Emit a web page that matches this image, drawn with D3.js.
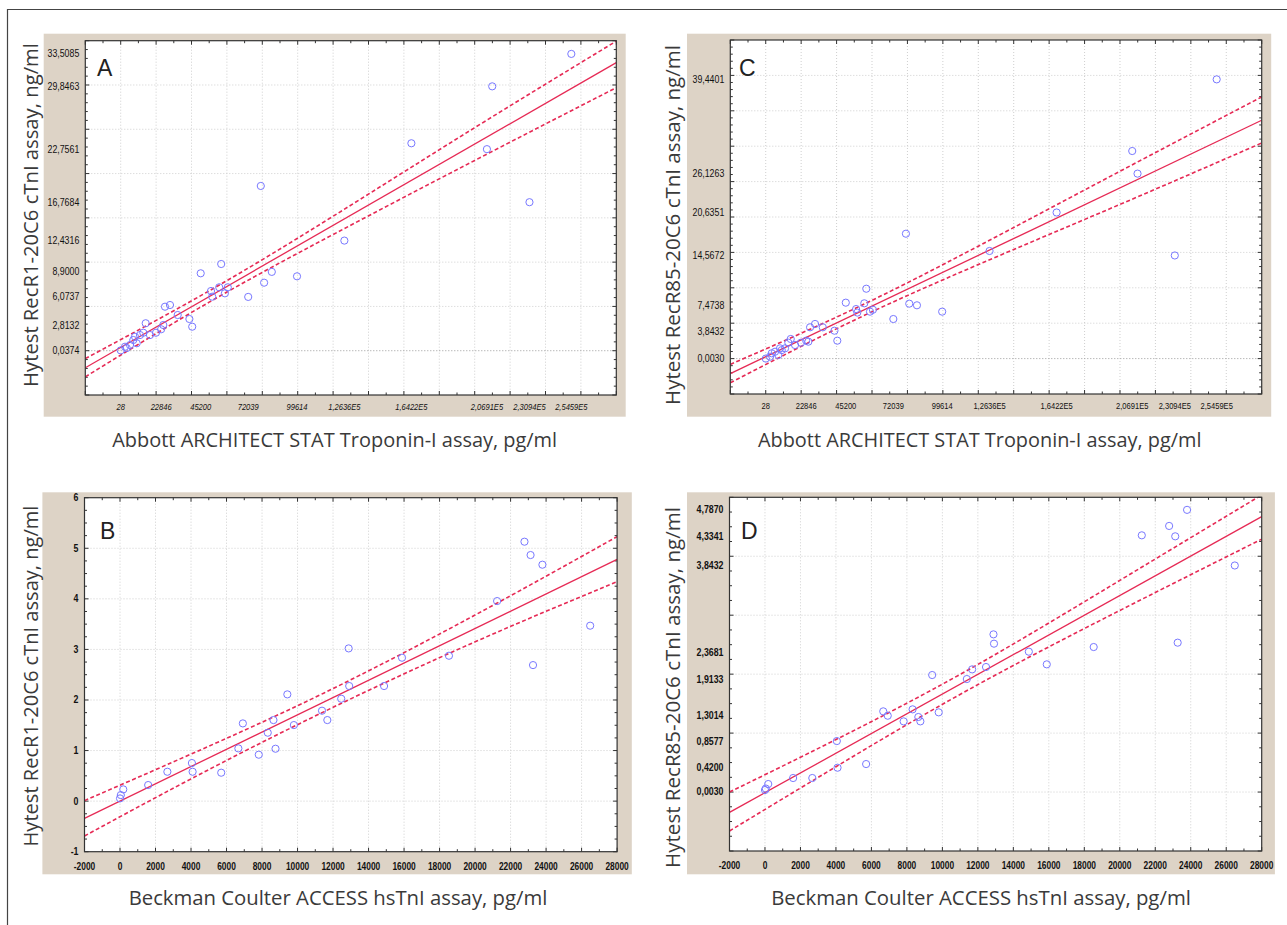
<!DOCTYPE html>
<html>
<head>
<meta charset="utf-8">
<script src="https://cdnjs.cloudflare.com/ajax/libs/d3/7.8.5/d3.min.js"></script>
<style>
    body { margin: 0; background: #fff; }
    .tick-label { font-family: "Liberation Sans", Arial, sans-serif; font-size: 10px; fill: #111; }
    .axis-title { font-family: "Open Sans", "Noto Sans", sans-serif; fill: #3a3a3a; }
    .panel-letter { font-family: "Liberation Sans", Arial, sans-serif; font-size: 23px; fill: #222; }
</style>
</head>
<body>
<div class="chart"></div>
<script>
var svgWidth = 1287;
var svgHeight = 925;

// Abbott ARCHITECT values (pg/ml), shared by panels A and C
var abbottX = [28, 2430, 3380, 5250, 7120, 8080, 9040, 10900, 12770, 14120, 16550, 19940,
    22846, 24070, 25030, 27850, 32200, 38810, 40400, 45200, 51020, 51700, 55650, 56780,
    58870, 60500, 72039, 79150, 81020, 85370, 99614, 126360, 164220, 206910, 209900,
    230940, 254590];
// Panel A: RecR1-20C6 (ng/ml)
var recR1Abbott = [0.0374, 0.45, 0.30, 0.64, 1.21, 1.58, 0.84, 1.77, 2.03, 3.10, 1.77, 2.03,
    2.42, 2.90, 4.97, 5.16, 4.03, 3.58, 2.71, 8.74, 6.74, 6.10, 7.16, 9.79,
    6.48, 7.16, 6.0737, 18.6, 7.68, 8.90, 8.40, 12.4316, 23.42, 22.7561, 29.8463,
    16.7684, 33.5085];
// Panel C: RecR85-20C6 (ng/ml)
var recR85Abbott = [0.0030, 0.27, 0.75, 0.97, 0.51, 1.45, 1.20, 1.45, 2.25, 2.77, 1.92, 2.25,
    2.53, 2.39, 4.42, 4.89, 4.42, 3.94, 2.53, 7.90, 7.00, 6.50, 7.81, 9.87,
    6.63, 6.90, 5.59, 17.64, 7.76, 7.53, 6.63, 15.2, 20.6351, 29.32, 26.1263,
    14.5672, 39.4401];

// Beckman Coulter ACCESS values (pg/ml), shared by panels B and D
var beckmanX = [0, 46, 184, 1586, 2667, 4050, 4090, 5701, 6667, 6920, 7816, 8322, 8644, 8759,
    9425, 9793, 11379, 11678, 12460, 12880, 12910, 14874, 15885, 18529, 21241, 22782,
    23126, 23264, 23793, 26483];
// Panel B: RecR1-20C6 (ng/ml)
var recR1Beckman = [0.054, 0.12, 0.232, 0.318, 0.581, 0.753, 0.581, 0.562, 1.043, 1.537, 0.918,
    1.353, 1.603, 1.036, 2.111, 1.504, 1.788, 1.603, 2.025, 3.02, 2.276, 2.276, 2.836,
    2.875, 3.956, 5.13, 4.866, 2.69, 4.675, 3.469];
// Panel D: RecR85-20C6 (ng/ml)
var recR85Beckman = [0.034, 0.06, 0.136, 0.238, 0.238, 0.865, 0.413, 0.475, 1.369, 1.295, 1.199,
    1.403, 1.273, 1.199, 1.985, 1.352, 1.917, 2.081, 2.121, 2.675, 2.517, 2.381, 2.166,
    2.46, 4.355, 4.514, 4.338, 2.534, 4.787, 3.8432];

// Regression lines and confidence bands
var fitXAbbott = [-20000, 280000];
var fitA = [-1.92, 32.52];
var fitC = [-2.12, 33.66];
var bandXAbbott = [-20000, 50000, 120000, 200000, 280000];
var upperA = [-0.89, 6.76, 15.18, 25.18, 34.95];
var lowerA = [-2.95, 5.48, 13.12, 21.48, 29.7];
var upperC = [-0.82, 7.03, 15.88, 26.46, 36.96];
var lowerC = [-3.42, 5.43, 13.28, 21.78, 30.45];

var fitXBeckman = [-2000, 28000];
var fitB = [-0.34, 4.78];
var fitD = [-0.345, 4.672];
var bandXBeckman = [-2000, 4000, 11500, 20000, 28000];
var upperB = [0.01, 0.93, 2.14, 3.68, 5.23];
var lowerB = [-0.69, 0.44, 1.77, 3.15, 4.34];
var upperD = [0.0, 0.89, 2.08, 3.59, 5.04];
var lowerD = [-0.66, 0.43, 1.74, 3.08, 4.29];

// Tick labels
var abbottTicks = [28, 22846, 45200, 72039, 99614, 126360, 164220, 206910, 230940, 254590];
var beckmanTicks = [-2000, 0, 2000, 4000, 6000, 8000, 10000, 12000, 14000, 16000, 18000, 20000,
    22000, 24000, 26000, 28000];
var yTicksA = [33.5085, 29.8463, 22.7561, 16.7684, 12.4316, 8.9, 6.0737, 2.8132, 0.0374];
var yTicksC = [39.4401, 26.1263, 20.6351, 14.5672, 7.4738, 3.8432, 0.003];
var yTicksB = [-1, 0, 1, 2, 3, 4, 5, 6];
var yTicksD = [4.787, 4.3341, 3.8432, 2.3681, 1.9133, 1.3014, 0.8577, 0.42, 0.003];

var titleAbbott = "Abbott ARCHITECT STAT Troponin-I assay, pg/ml";
var titleBeckman = "Beckman Coulter ACCESS hsTnI assay, pg/ml";
var titleRecR1 = "Hytest RecR1-20C6 cTnI assay, ng/ml";
var titleRecR85 = "Hytest RecR85-20C6 cTnI assay, ng/ml";

var red = "#e62a55";

function commaFixed(v) {
    return d3.format(".4f")(v).replace(".", ",");
}
function abbottFormat(v) {
    if (v >= 100000) return commaFixed(v / 100000) + "E5";
    return String(v);
}

var panels = [
    { letter: "A", letterPos: [97, 76], bg: [43.7, 33.7, 625.7, 416.7], plot: [85.3, 40.7, 616.3, 395],
      xDomain: [-20000, 280000], yDomain: [-5, 35], xs: abbottX, ys: recR1Abbott,
      xTicks: abbottTicks, xFormat: abbottFormat, xItalic: true, yTicks: yTicksA, yFormat: commaFixed,
      xGrid: 20000, xMinor: 10000, yGrid: 5, yMinor: 1, zeroDark: true, boldLabels: false,
      fitX: fitXAbbott, fit: fitA, bandX: bandXAbbott, upper: upperA, lower: lowerA,
      xTitle: titleAbbott, xTitlePos: [334.7, 446.5, 445], yTitle: titleRecR1, yTitlePos: [37.5, 215, 344],
      xLabelGap: 15, xLabelSize: 9 },
    { letter: "C", letterPos: [739, 76], bg: [687, 33.7, 1271.2, 416.7], plot: [730.3, 40, 1261.7, 394],
      xDomain: [-20000, 280000], yDomain: [-5, 45], xs: abbottX, ys: recR85Abbott,
      xTicks: abbottTicks, xFormat: abbottFormat, xItalic: false, yTicks: yTicksC, yFormat: commaFixed,
      xGrid: 20000, xMinor: 10000, yGrid: 5, yMinor: 1, zeroDark: true, boldLabels: false,
      fitX: fitXAbbott, fit: fitC, bandX: bandXAbbott, upper: upperC, lower: lowerC,
      xTitle: titleAbbott, xTitlePos: [979.7, 446.5, 444], yTitle: titleRecR85, yTitlePos: [680, 225, 360],
      xLabelGap: 15, xLabelSize: 9 },
    { letter: "B", letterPos: [100, 539], bg: [42.4, 492.3, 631.8, 874.3], plot: [84.5, 497.7, 617.1, 851.7],
      xDomain: [-2000, 28000], yDomain: [-1, 6], xs: beckmanX, ys: recR1Beckman,
      xTicks: beckmanTicks, xFormat: String, xItalic: false, yTicks: yTicksB, yFormat: String,
      xGrid: 2000, xMinor: 1000, yGrid: 1, yMinor: 0.25, zeroDark: false, boldLabels: true,
      fitX: fitXBeckman, fit: fitB, bandX: bandXBeckman, upper: upperB, lower: lowerB,
      xTitle: titleBeckman, xTitlePos: [338, 905, 419], yTitle: titleRecR1, yTitlePos: [37.5, 676, 341],
      xLabelGap: 18, xLabelSize: 10 },
    { letter: "D", letterPos: [741, 539], bg: [687, 492.3, 1274.9, 874.3], plot: [729.5, 497.3, 1261.7, 851],
      xDomain: [-2000, 28000], yDomain: [-1, 5], xs: beckmanX, ys: recR85Beckman,
      xTicks: beckmanTicks, xFormat: String, xItalic: false, yTicks: yTicksD, yFormat: commaFixed,
      xGrid: 2000, xMinor: 1000, yGrid: 1, yMinor: 0.25, zeroDark: false, boldLabels: true,
      fitX: fitXBeckman, fit: fitD, bandX: bandXBeckman, upper: upperD, lower: lowerD,
      xTitle: titleBeckman, xTitlePos: [981, 905, 420], yTitle: titleRecR85, yTitlePos: [680, 687.5, 361],
      xLabelGap: 18, xLabelSize: 10 }
];

var svg = d3.select(".chart")
    .append("svg")
    .attr("width", svgWidth)
    .attr("height", svgHeight);

// outer frame of the figure
svg.append("path")
    .attr("d", "M7.5,925 V9.5 H1287")
    .attr("fill", "none")
    .attr("stroke", "#444")
    .attr("stroke-width", 1.2);

// text sized to a target width
function fitText(sel, target, startSize) {
    sel.style("font-size", startSize + "px");
    var w = sel.node().getComputedTextLength();
    sel.style("font-size", (startSize * target / w) + "px");
}

panels.forEach(function (p, i) {
    var g = svg.append("g");
    var x0 = p.plot[0], y0 = p.plot[1], x1 = p.plot[2], y1 = p.plot[3];

    var xScale = d3.scaleLinear().domain(p.xDomain).range([x0, x1]);
    var yScale = d3.scaleLinear().domain(p.yDomain).range([y1, y0]);

    // beige panel
    g.append("rect")
        .attr("x", p.bg[0]).attr("y", p.bg[1])
        .attr("width", p.bg[2] - p.bg[0]).attr("height", p.bg[3] - p.bg[1])
        .attr("fill", "#ddd3c6");

    g.append("rect")
        .attr("x", x0).attr("y", y0)
        .attr("width", x1 - x0).attr("height", y1 - y0)
        .attr("fill", "#fff");

    // grid
    var xGrid = d3.range(p.xDomain[0] + p.xGrid, p.xDomain[1], p.xGrid);
    var yGrid = d3.range(p.yDomain[0] + p.yGrid, p.yDomain[1], p.yGrid);

    g.selectAll(".vgrid")
        .data(xGrid)
        .enter()
        .append("line")
        .attr("x1", d => xScale(d)).attr("x2", d => xScale(d))
        .attr("y1", y0).attr("y2", y1)
        .attr("stroke", "#cfcfcf")
        .attr("stroke-dasharray", "1,2");

    g.selectAll(".hgrid")
        .data(yGrid)
        .enter()
        .append("line")
        .attr("x1", x0).attr("x2", x1)
        .attr("y1", d => yScale(d)).attr("y2", d => yScale(d))
        .attr("stroke", d => (p.zeroDark && d === 0) ? "#9a9a9a" : "#cfcfcf")
        .attr("stroke-dasharray", "1,2");

    // inward tick marks on all four sides
    var xMinor = d3.range(p.xDomain[0], p.xDomain[1] + 1e-9, p.xMinor);
    var yMinor = d3.range(p.yDomain[0], p.yDomain[1] + 1e-9, p.yMinor);
    var tickPath = "";
    xMinor.forEach(function (v) {
        var len = (Math.abs(v / p.xGrid - Math.round(v / p.xGrid)) < 1e-6) ? 4 : 2.5;
        var xx = xScale(v);
        tickPath += "M" + xx + "," + y1 + "v" + (-len) + "M" + xx + "," + y0 + "v" + len;
    });
    yMinor.forEach(function (v) {
        var len = (Math.abs(v / p.yGrid - Math.round(v / p.yGrid)) < 1e-6) ? 4 : 2.5;
        var yy = yScale(v);
        tickPath += "M" + x0 + "," + yy + "h" + len + "M" + x1 + "," + yy + "h" + (-len);
    });
    g.append("path")
        .attr("d", tickPath)
        .attr("stroke", "#333")
        .attr("stroke-width", 1);

    // clip for lines
    g.append("clipPath")
        .attr("id", "clip" + i)
        .append("rect")
        .attr("x", x0).attr("y", y0)
        .attr("width", x1 - x0).attr("height", y1 - y0);

    var plotArea = g.append("g").attr("clip-path", "url(#clip" + i + ")");

    var bandLine = d3.line()
        .x(d => xScale(d[0]))
        .y(d => yScale(d[1]))
        .curve(d3.curveNatural);

    [p.upper, p.lower].forEach(function (band) {
        plotArea.append("path")
            .datum(p.bandX.map((v, k) => [v, band[k]]))
            .attr("d", bandLine)
            .attr("fill", "none")
            .attr("stroke", red)
            .attr("stroke-width", 1.6)
            .attr("stroke-dasharray", "4,2.5");
    });

    plotArea.append("path")
        .datum(p.fitX.map((v, k) => [v, p.fit[k]]))
        .attr("d", d3.line().x(d => xScale(d[0])).y(d => yScale(d[1])))
        .attr("fill", "none")
        .attr("stroke", red)
        .attr("stroke-width", 1.3);

    // scatter points
    plotArea.selectAll("circle")
        .data(p.xs.map((v, k) => [v, p.ys[k]]))
        .enter()
        .append("circle")
        .attr("cx", d => xScale(d[0]))
        .attr("cy", d => yScale(d[1]))
        .attr("r", 3.6)
        .attr("fill", "none")
        .attr("stroke", "#7878ff")
        .attr("stroke-width", 1);

    // plot frame
    g.append("rect")
        .attr("x", x0).attr("y", y0)
        .attr("width", x1 - x0).attr("height", y1 - y0)
        .attr("fill", "none")
        .attr("stroke", "#333")
        .attr("stroke-width", 1.2);

    // tick labels, squeezed horizontally like a narrow face
    g.selectAll(".xlab")
        .data(p.xTicks)
        .enter()
        .append("text")
        .attr("class", "tick-label")
        .attr("transform", d => `translate(${xScale(d)}, ${y1 + p.xLabelGap}) scale(0.84, 1)`)
        .attr("text-anchor", "middle")
        .style("font-style", p.xItalic ? "italic" : "normal")
        .style("font-weight", p.boldLabels ? "bold" : "normal")
        .style("font-size", p.xLabelSize + "px")
        .text(d => p.xFormat(d));

    g.selectAll(".ylab")
        .data(p.yTicks)
        .enter()
        .append("text")
        .attr("class", "tick-label")
        .attr("transform", d => `translate(${x0 - 6}, ${yScale(d)}) scale(0.88, 1)`)
        .attr("dy", "0.35em")
        .attr("text-anchor", "end")
        .style("font-weight", p.boldLabels ? "bold" : "normal")
        .text(d => p.yFormat(d));

    // panel letter
    g.append("text")
        .attr("class", "panel-letter")
        .attr("x", p.letterPos[0])
        .attr("y", p.letterPos[1])
        .text(p.letter);

    // axis titles
    var xt = g.append("text")
        .attr("class", "axis-title")
        .attr("x", p.xTitlePos[0])
        .attr("y", p.xTitlePos[1])
        .attr("text-anchor", "middle")
        .text(p.xTitle);
    fitText(xt, p.xTitlePos[2], 17);

    var yt = g.append("text")
        .attr("class", "axis-title")
        .attr("transform", `translate(${p.yTitlePos[0]}, ${p.yTitlePos[1]}) rotate(-90)`)
        .attr("text-anchor", "middle")
        .text(p.yTitle);
    fitText(yt, p.yTitlePos[2], 17);
});
</script>
</body>
</html>
